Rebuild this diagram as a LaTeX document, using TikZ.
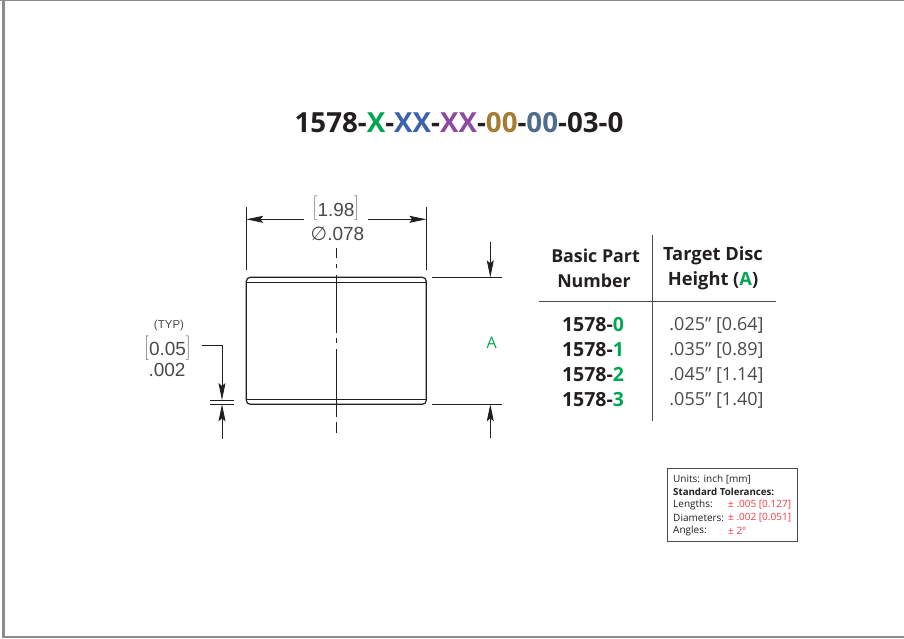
\documentclass[tikz,border=0pt]{standalone}
\usepackage{fontspec}
\setmainfont{Open Sans}
\newfontfamily\dimfont{Liberation Sans}
\newfontfamily\symfont{DejaVu Sans}
\usetikzlibrary{arrows.meta}
\definecolor{inkdark}{HTML}{231F20}
\definecolor{inkgray}{HTML}{4A4A4C}
\definecolor{codegreen}{HTML}{00A651}
\definecolor{codeblue}{HTML}{3A62AE}
\definecolor{codepurple}{HTML}{8E4A9E}
\definecolor{codegold}{HTML}{A67C33}
\definecolor{codeslate}{HTML}{4E6C8C}
\definecolor{tolred}{HTML}{EE3A43}
\tikzset{
  hairline/.style={draw=inkdark,line width=0.8pt},
  dimhead/.tip={Stealth[length=17pt,width=7pt,inset=3pt]},
  dimtip/.style={hairline,dimhead-},
  dimtext/.style={font=\dimfont\fontsize{19}{19}\selectfont,text=inkgray,inner sep=0pt},
  headtext/.style={font=\fontsize{17.8}{17.8}\selectfont\bfseries,text=inkdark,inner sep=0pt},
  headwide/.style={font=\fontsize{18.3}{18.3}\selectfont\bfseries,text=inkdark,inner sep=0pt},
  parttext/.style={font=\fontsize{19.5}{19.5}\selectfont\bfseries,text=inkdark,inner sep=0pt},
  valuetext/.style={font=\fontsize{18}{18}\selectfont,text=inkgray,inner sep=0pt},
  toltext/.style={font=\fontsize{10}{10}\selectfont,text=inkdark,inner sep=0pt,anchor=west},
  tolvalue/.style={toltext,text=tolred},
}
\begin{document}
\begin{tikzpicture}[x=1pt,y=-1pt]
  \useasboundingbox (0,0) rectangle (904,638);
  % outer frame
  \fill[gray!90] (0,0) rectangle (904,1);
  \fill[gray!90] (2,0) rectangle (5,638);
  \fill[gray!90] (2,636) rectangle (904,638);

  \node[font=\fontsize{27.7}{27.7}\selectfont\bfseries,text=inkdark,inner sep=0pt] (title) at (459,123)
    {1578-\textcolor{codegreen}{X}-\textcolor{codeblue}{XX}-\textcolor{codepurple}{XX}-\textcolor{codegold}{00}-\textcolor{codeslate}{00}-03-0};

  % part outline
  \draw[draw=inkdark,line width=1.2pt,rounded corners=4pt] (246.3,277.3) rectangle (426.3,404.3);
  \coordinate (TL) at (246.3,282.3);
  \coordinate (TR) at (426.3,282.3);
  \coordinate (BL) at (246.3,399.3);
  \coordinate (BR) at (426.3,399.3);
  \draw[hairline] (TL) -- (TR);
  \draw[hairline] (BL) -- (BR);

  % centre line
  \coordinate (C1) at (336.3,248);
  \coordinate (C2) at (336.3,258);
  \coordinate (C3) at (336.3,264);
  \coordinate (C4) at (336.3,268);
  \coordinate (C5) at (336.3,275);
  \coordinate (C6) at (336.3,333);
  \coordinate (C7) at (336.3,338);
  \coordinate (C8) at (336.3,343);
  \coordinate (C9) at (336.3,349);
  \coordinate (C10) at (336.3,417);
  \coordinate (C11) at (336.3,422);
  \coordinate (C12) at (336.3,433);
  \draw[hairline] (C1) -- (C2);
  \draw[hairline] (C3) -- (C4);
  \draw[hairline] (C5) -- (C6);
  \draw[hairline] (C7) -- (C8);
  \draw[hairline] (C9) -- (C10);
  \draw[hairline] (C11) -- (C12);

  % width dimension
  \coordinate (WA) at (246.3,207);
  \coordinate (WB) at (246.3,270);
  \coordinate (WC) at (426.3,207);
  \coordinate (WD) at (426.3,270);
  \coordinate (WE) at (246.3,219.3);
  \coordinate (WF) at (304,219.3);
  \coordinate (WG) at (426.3,219.3);
  \coordinate (WH) at (368,219.3);
  \draw[hairline] (WA) -- (WB);
  \draw[hairline] (WC) -- (WD);
  \draw[dimtip] (WE) -- (WF);
  \draw[dimtip] (WG) -- (WH);
  \node[dimtext] (wmm) at (336,208.5) {$\bigg[$\raisebox{-4pt}{1.98}$\bigg]$};
  \node[dimtext] (win) at (337.5,234) {{\symfont ∅}.078};

  % height dimension
  \coordinate (HA) at (432,277.3);
  \coordinate (HB) at (502,277.3);
  \coordinate (HC) at (432,404.3);
  \coordinate (HD) at (502,404.3);
  \coordinate (HE) at (490.3,277.3);
  \coordinate (HF) at (490.3,242);
  \coordinate (HG) at (490.3,404.3);
  \coordinate (HH) at (490.3,438);
  \draw[hairline] (HA) -- (HB);
  \draw[hairline] (HC) -- (HD);
  \draw[dimtip] (HE) -- (HF);
  \draw[dimtip] (HG) -- (HH);
  \node[font=\fontsize{16}{16}\selectfont,text=codegreen,inner sep=0pt] (hlabel) at (491.7,342.5) {A};

  % chamfer dimension
  \coordinate (TA) at (210,400);
  \coordinate (TB) at (234,400);
  \coordinate (TC) at (210,404.3);
  \coordinate (TD) at (234,404.3);
  \coordinate (TE) at (202,345);
  \coordinate (TF) at (222,345);
  \coordinate (TG) at (222,400);
  \coordinate (TH) at (222,404.3);
  \coordinate (TI) at (222,439);
  \draw[hairline] (TA) -- (TB);
  \draw[hairline] (TC) -- (TD);
  \draw[hairline,-dimhead] (TE) -- (TF) -- (TG);
  \draw[dimtip] (TH) -- (TI);
  \node[font=\dimfont\fontsize{11.5}{11.5}\selectfont,text=inkgray,inner sep=0pt] (typ) at (169,326) {(TYP)};
  \node[dimtext] (tmm) at (167.5,348) {$\bigg[$\raisebox{-3pt}{0.05}$\bigg]$};
  \node[dimtext] (tin) at (167,369.5) {.002};

  % table
  \coordinate (RA) at (652.7,235);
  \coordinate (RB) at (652.7,421);
  \coordinate (RC) at (539,301.7);
  \coordinate (RD) at (776,301.7);
  \draw[inkgray,line width=1.1pt] (RA) -- (RB);
  \draw[inkgray,line width=1.1pt] (RC) -- (RD);
  \node[headtext] (h1) at (595.5,255.5) {Basic Part};
  \node[headtext] (h2) at (594,280.5) {Number};
  \node[headwide] (h3) at (713,255.5) {Target Disc};
  \node[headwide] (h4) at (713,280.5) {Height (\textcolor{codegreen}{A})};
  \node[parttext] (p0) at (593,325) {1578-\textcolor{codegreen}{0}};
  \node[parttext] (p1) at (593,350) {1578-\textcolor{codegreen}{1}};
  \node[parttext] (p2) at (593,375) {1578-\textcolor{codegreen}{2}};
  \node[parttext] (p3) at (593,400) {1578-\textcolor{codegreen}{3}};
  \node[valuetext] (v0) at (716.5,325) {.025" [0.64]};
  \node[valuetext] (v1) at (716.5,350) {.035" [0.89]};
  \node[valuetext] (v2) at (716.5,375) {.045" [1.14]};
  \node[valuetext] (v3) at (716.5,400) {.055" [1.40]};

  % tolerance box
  \draw[draw=inkgray,line width=1pt,fill=white] (667,468) rectangle (797,541);
  \node[toltext] (t1) at (673,479) {Units: inch [mm]};
  \node[toltext,font=\fontsize{9.7}{9.7}\selectfont\bfseries] (t2) at (673,492) {Standard Tolerances:};
  \node[toltext] (t3) at (673,505) {Lengths:};
  \node[toltext] (t4) at (673,518) {Diameters:};
  \node[toltext] (t5) at (673,531) {Angles:};
  \node[tolvalue] (t6) at (728,505) {± .005 [0.127]};
  \node[tolvalue] (t7) at (728,518) {± .002 [0.051]};
  \node[tolvalue] (t8) at (728,531) {± 2°};
\end{tikzpicture}
\end{document}
